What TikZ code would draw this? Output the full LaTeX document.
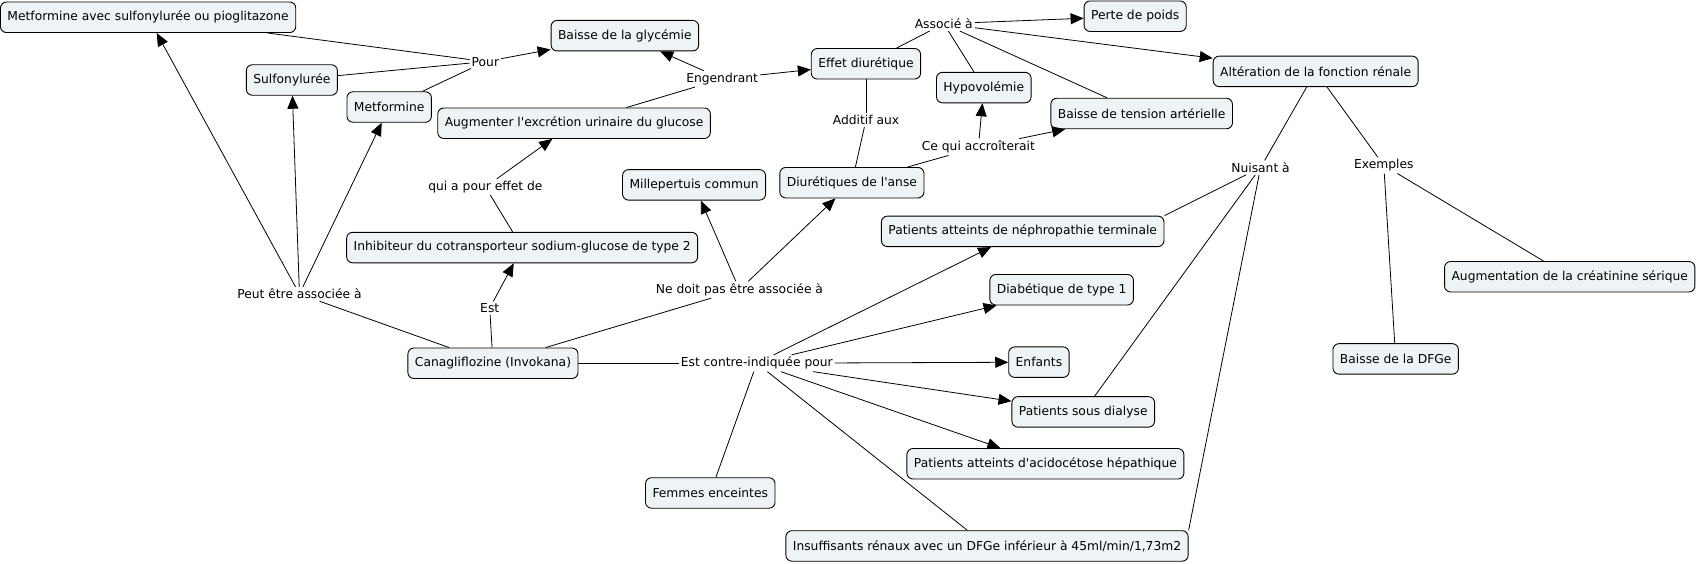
\documentclass[tikz,border=0pt]{standalone}
\usepackage{fontspec}
\setmainfont{DejaVu Sans}
\usetikzlibrary{arrows.meta,calc}
\definecolor{cfill}{RGB}{238,243,246}
\newcommand{\apos}{\textquotesingle}
\begin{document}
\begin{tikzpicture}[x=1.0811pt,y=-1.0811pt,
  concept/.style={draw=black, line width=0.9pt, rounded corners=6pt, fill=cfill, inner xsep=7pt, inner ysep=0pt, minimum height=30.5pt, font=\fontsize{12.3pt}{14pt}\selectfont},
  lbl/.style={inner sep=2pt, font=\fontsize{12.3pt}{14pt}\selectfont},
  ln/.style={line width=0.8pt},
  arr/.style={line width=0.8pt, -{Triangle[length=13pt,width=11pt]}},
]
\useasboundingbox (0,0) rectangle (1568.8,520.8);
% concepts
\node[concept] (mps)   at (137,16)  {Metformine avec sulfonylurée ou pioglitazone};
\node[concept] (bg)    at (578,33)  {Baisse de la glycémie};
\node[concept] (sulf)  at (270,74)  {Sulfonylurée};
\node[concept] (metf)  at (360,99)  {Metformine};
\node[concept] (aug)   at (531,114) {Augmenter l\apos excrétion urinaire du glucose};
\node[concept] (ed)    at (801,59)  {Effet diurétique};
\node[concept] (pp)    at (1050,15) {Perte de poids};
\node[concept] (hypo)  at (910,81)  {Hypovolémie};
\node[concept] (bta)   at (1056,105) {Baisse de tension artérielle};
\node[concept] (alt)   at (1217,66) {Altération de la fonction rénale};
\node[concept] (mill)  at (642,171) {Millepertuis commun};
\node[concept] (dia)   at (788,169) {Diurétiques de l\apos anse};
\node[concept] (inh)   at (483,229) {Inhibiteur du cotransporteur sodium-glucose de type 2};
\node[concept] (pnt)   at (946,214) {Patients atteints de néphropathie terminale};
\node[concept] (dt1)   at (982,268) {Diabétique de type 1};
\node[concept] (creat) at (1452,256) {Augmentation de la créatinine sérique};
\node[concept] (cana)  at (456,336) {Canagliflozine (Invokana)};
\node[concept] (enf)   at (961,335) {Enfants};
\node[concept] (psd)   at (1002,381) {Patients sous dialyse};
\node[concept] (aci)   at (967,429) {Patients atteints d\apos acidocétose hépathique};
\node[concept] (fem)   at (657,456) {Femmes enceintes};
\node[concept] (ins)   at (913,505) {Insuffisants rénaux avec un DFGe inférieur à 45ml/min/1,73m2};
\node[concept] (dfge)  at (1291,332) {Baisse de la DFGe};
% linking phrases
\node[lbl] (pour) at (449,57)  {Pour};
\node[lbl] (eng)  at (668,73)  {Engendrant};
\node[lbl] (asso) at (873,22)  {Associé à};
\node[lbl] (add)  at (801,111) {Additif aux};
\node[lbl] (cqa)  at (905,136) {Ce qui accroîterait};
\node[lbl] (qap)  at (449,173) {qui a pour effet de};
\node[lbl] (ndp)  at (684,268) {Ne doit pas être associée à};
\node[lbl] (pea)  at (277,272) {Peut être associée à};
\node[lbl] (est)  at (453,285) {Est};
\node[lbl] (eci)  at (700,336) {Est contre-indiquée pour};
\node[lbl] (nui)  at (1166,155) {Nuisant à};
\node[lbl] (exe)  at (1280,153) {Exemples};
% connectors
\draw[ln] (cana) -- (pea);
\draw[arr] (pea) -- (mps);
\draw[arr] (pea) -- (sulf);
\draw[arr] (pea) -- (metf);
\draw[ln] (mps) -- (pour);
\draw[ln] (sulf) -- (pour);
\draw[ln] (metf) -- (pour);
\draw[arr] (pour) -- (bg);
\draw[ln] (cana) -- (est);
\draw[arr] (est) -- (inh);
\draw[ln] (inh) -- (qap);
\draw[arr] (qap) -- (aug);
\draw[ln] (aug) -- (eng);
\draw[arr] (eng) -- (bg);
\draw[arr] (eng) -- (ed);
\draw[ln] (ed) -- (asso);
\draw[arr] (asso) -- (pp);
\draw[arr] (asso) -- (alt);
\draw[ln] (asso) -- (hypo);
\draw[ln] (asso) -- (bta);
\draw[ln] (ed) -- (add);
\draw[ln] (add) -- (dia);
\draw[ln] (dia) -- (cqa);
\draw[arr] (cqa) -- (hypo);
\draw[arr] (cqa) -- (bta);
\draw[ln] (cana) -- (ndp);
\draw[arr] (ndp) -- (mill);
\draw[arr] (ndp) -- (dia);
\draw[ln] (cana) -- (eci);
\draw[arr] (eci) -- (pnt);
\draw[arr] (eci) -- (dt1);
\draw[arr] (eci) -- (enf);
\draw[arr] (eci) -- (psd);
\draw[arr] (eci) -- (aci);
\draw[ln] (eci) -- (fem);
\draw[ln] (eci) -- (ins);
\draw[ln] (alt) -- (nui);
\draw[ln] (alt) -- (exe);
\draw[ln] (nui) -- (pnt.north east);
\draw[ln] (nui) -- (psd);
\draw[ln] (nui) -- (ins.north east);
\draw[ln] (exe) -- (dfge);
\draw[ln] (exe) -- (creat);
\end{tikzpicture}
\end{document}
